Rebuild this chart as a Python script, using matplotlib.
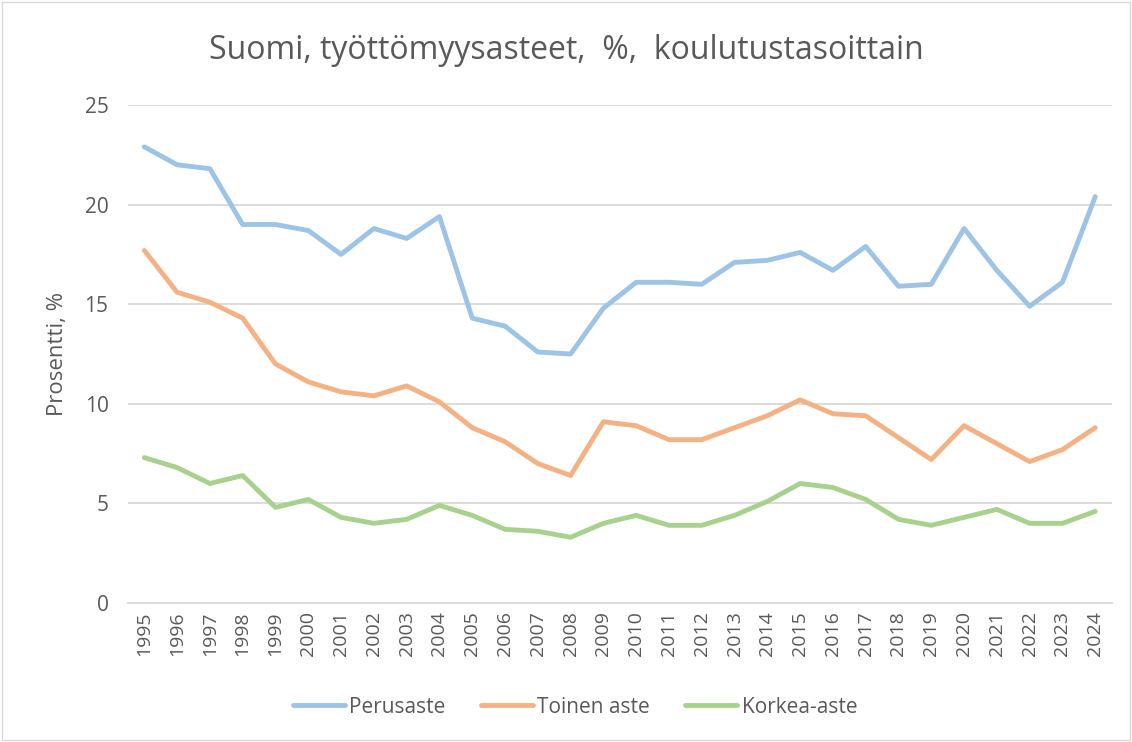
import matplotlib
matplotlib.use("Agg")
import matplotlib.pyplot as plt
from matplotlib.patches import Rectangle

years = [str(y) for y in range(1995, 2025)]
perusaste = [22.9, 22.0, 21.8, 19.0, 19.0, 18.7, 17.5, 18.8, 18.3, 19.4,
             14.3, 13.9, 12.6, 12.5, 14.8, 16.1, 16.1, 16.0, 17.1, 17.2,
             17.6, 16.7, 17.9, 15.9, 16.0, 18.8, 16.7, 14.9, 16.1, 20.4]
toinen_aste = [17.7, 15.6, 15.1, 14.3, 12.0, 11.1, 10.6, 10.4, 10.9, 10.1,
               8.8, 8.1, 7.0, 6.4, 9.1, 8.9, 8.2, 8.2, 8.8, 9.4,
               10.2, 9.5, 9.4, 8.3, 7.2, 8.9, 8.0, 7.1, 7.7, 8.8]
korkea_aste = [7.3, 6.8, 6.0, 6.4, 4.8, 5.2, 4.3, 4.0, 4.2, 4.9,
               4.4, 3.7, 3.6, 3.3, 4.0, 4.4, 3.9, 3.9, 4.4, 5.1,
               6.0, 5.8, 5.2, 4.2, 3.9, 4.3, 4.7, 4.0, 4.0, 4.6]
series_names = ["Perusaste", "Toinen aste", "Korkea-aste"]
colors = ["#9dc3e6", "#f4b183", "#a9d18e"]

plt.rcParams['font.family'] = ['Open Sans', 'DejaVu Sans']
txt = "#595959"

fig = plt.figure(figsize=(11.32, 7.42), dpi=100)
ax = fig.add_axes([0.113, 0.1873, 0.869, 0.6712])

x = list(range(len(years)))
for vals, name, c in zip([perusaste, toinen_aste, korkea_aste], series_names, colors):
    ax.plot(x, vals, color=c, lw=3.5, label=name, solid_capstyle='round', solid_joinstyle='round')

ax.set_xlim(-0.5, len(years) - 0.5)
ax.set_ylim(0, 25)
ax.set_yticks([0, 5, 10, 15, 20, 25])
ax.set_xticks(x)
ax.set_xticklabels(years, rotation=90, fontsize=14, color=txt)
ax.tick_params(axis='y', labelsize=15, colors=txt, length=0, pad=14)
ax.tick_params(axis='x', length=0, pad=6)
ax.grid(axis='y', color='#d9d9d9', lw=1.3)
ax.set_axisbelow(True)
for s in ['top', 'right', 'left']:
    ax.spines[s].set_visible(False)
ax.spines['bottom'].set_color('#d9d9d9')
ax.spines['bottom'].set_linewidth(1.3)

ax.set_ylabel("Prosentti, %", fontsize=16, color=txt, labelpad=12)
fig.text(0.5, 0.932, "Suomi, työttömyysasteet,  %,  koulutustasoittain",
         ha='center', va='center', fontsize=23, color=txt)

leg = fig.legend(loc='center', bbox_to_anchor=(0.508, 0.047), ncol=3, frameon=False,
                 fontsize=15, handlelength=2.5, columnspacing=1.7, handletextpad=0.2,
                 labelcolor=txt)

fig.patches.append(Rectangle((0.002, 0.003), 0.996, 0.994, transform=fig.transFigure,
                             fill=False, edgecolor='#d9d9d9', lw=1))

fig.savefig("out.png", dpi=100, facecolor='white')
